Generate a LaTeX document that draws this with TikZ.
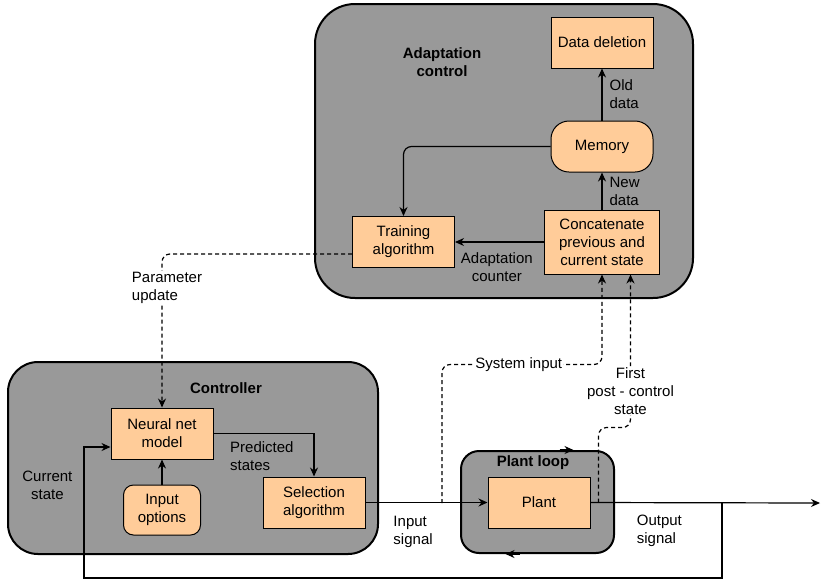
\documentclass[tikz,border=0pt]{standalone}
\usepackage{fontspec}
\setmainfont{Liberation Sans}
\usepackage{tikz}
\usetikzlibrary{positioning,arrows.meta,calc}
\usepackage{xcolor}
\definecolor{boxgray}{HTML}{999999}
\definecolor{peach}{HTML}{FFCC99}

\begin{document}
\begin{tikzpicture}[
        x=1pt, y=-1pt,
        every node/.style={font=\fontsize{15}{18}\selectfont},
        container/.style={draw, line width=2pt, fill=boxgray, inner sep=0pt},
        block/.style={draw, line width=1pt, fill=peach, align=center, inner sep=2pt, minimum width=102pt, minimum height=51pt},
        roundblock/.style={block, rounded corners=18pt},
        title/.style={font=\fontsize{15}{18}\selectfont\bfseries, align=center},
        lbl/.style={align=left, inner sep=1pt},
        arrow/.style={-{Stealth[length=9pt, width=8pt]}, line width=1.2pt},
        dashline/.style={arrow, dash pattern=on 4pt off 3pt, rounded corners=8pt}
    ]
        \useasboundingbox (0,0) rectangle (821,582);

        % Containers
        \node[container, rounded corners=40pt, minimum width=378pt, minimum height=294pt] (adapt) at (504,151) {};
        \node[container, rounded corners=30pt, minimum width=370pt, minimum height=192pt] (ctrl) at (193,458) {};
        \node[container, rounded corners=18pt, minimum width=153pt, minimum height=102pt] (plantloop) at (537.5,502) {};

        % Container titles
        \node[title] (adapttitle) at (442,62) {Adaptation\\control};
        \node[title] (ctrltitle) at (226,388) {Controller};
        \node[title] (looptitle) at (533,463) {Plant loop};

        % Adaptation control blocks
        \node[block] (deletion) at (602,42.5) {Data deletion};
        \node[roundblock, below=52pt of deletion] (memory) {Memory};
        \node[block, minimum width=115pt, minimum height=64pt, below=37pt of memory] (concat) {Concatenate\\previous and\\current state};
        \node[block, left=89pt of concat] (training) {Training\\algorithm};

        % Controller blocks
        \node[block] (neural) at (162,433.5) {Neural net\\model};
        \node[roundblock, rounded corners=10pt, minimum width=77pt, minimum height=50pt, below=25pt of neural] (options) {Input\\options};
        \node[block] (selection) at (314,502.5) {Selection\\algorithm};

        % Plant
        \node[block, right=122pt of selection] (plant) {Plant};

        % Tap points on the signal lines
        \coordinate (tapin) at (442,503);
        \coordinate (tapout) at (722,503);
        \coordinate (sink) at (820,503);

        % Arrows inside adaptation control
        \draw[arrow] (concat.north) -- node[lbl, right=6pt] {New\\data} (memory.south);
        \draw[arrow] (memory.north) -- node[lbl, right=6pt] {Old\\data} (deletion.south);
        \draw[arrow, rounded corners=8pt] (memory.west) -| (training.north);
        \draw[arrow] (concat.west) -- node[pos=0.53, below=9pt, align=center, inner sep=1pt] {Adaptation\\counter} (training.east);

        % Arrows inside controller
        \draw[arrow] (options.north) -- (neural.south);
        \draw[arrow] (neural.east) -| node[pos=0.075, lbl, anchor=north west, yshift=-7pt] {Predicted\\states} (selection.north);

        % Signal lines
        \draw[arrow] (selection.east) -- node[pos=0.39, below=12pt, lbl] {Input\\signal} (plant.west);
        \draw[arrow] (plant.east) -- node[pos=0.3, below=11pt, lbl] {Output\\signal} (sink);

        % Plant loop direction marks
        \draw[arrow] ([xshift=22]plantloop.north) -- ([xshift=36]plantloop.north);
        \draw[arrow] ([xshift=-18]plantloop.south) -- ([xshift=-32]plantloop.south);

        % Current state feedback
        \draw[arrow] (tapout) -- (722,578) -- (84,578) -- node[pos=0.71, left=10pt, align=center, inner sep=1pt] {Current\\state} (84,447) -- ([yshift=-13.5]neural.west);

        % Dashed data paths
        \draw[dashline] ([yshift=-12]training.west) -| node[pos=0.61, fill=white, lbl, xshift=5pt] {Parameter\\update} (neural.north);
        \draw[dashline] (tapin) |- node[pos=0.74, fill=white, inner sep=1pt] {System input} ($(concat.south)+(0,90)$) -- (concat.south);
        \draw[dashline] ([xshift=8]plant.east) -- ($(plant.east)+(8,-75)$) -- ($(plant.east)+(40,-75)$) -- node[pos=0.24, fill=white, align=center, inner sep=1pt] {First\\post - control\\state} ([xshift=28.5]concat.south);

    \end{tikzpicture}
\end{document}
